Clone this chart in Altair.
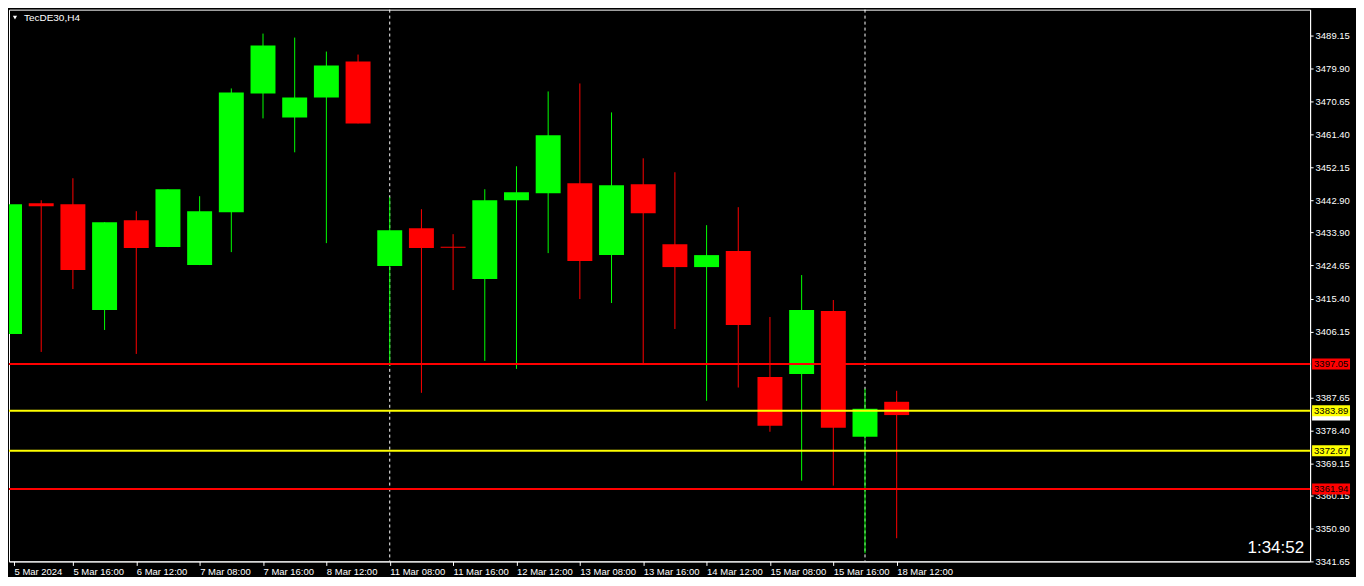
import json
import altair as alt
import pandas as pd

# ---------------- data ----------------
times = ["5 Mar 2024", "5 Mar 12:00", "5 Mar 16:00", "6 Mar 08:00", "6 Mar 12:00", "6 Mar 16:00",
         "7 Mar 08:00", "7 Mar 12:00", "7 Mar 16:00", "8 Mar 08:00", "8 Mar 12:00", "8 Mar 16:00",
         "11 Mar 08:00", "11 Mar 12:00", "11 Mar 16:00", "12 Mar 08:00", "12 Mar 12:00", "12 Mar 16:00",
         "13 Mar 08:00", "13 Mar 12:00", "13 Mar 16:00", "14 Mar 08:00", "14 Mar 12:00", "14 Mar 16:00",
         "15 Mar 08:00", "15 Mar 12:00", "15 Mar 16:00", "18 Mar 08:00", "18 Mar 12:00"]

opens = [3405.45, 3442.13, 3441.85, 3412.17, 3437.37, 3429.81, 3424.77, 3439.61, 3472.92, 3466.20,
         3471.80, 3481.87, 3424.49, 3435.13, 3429.90, 3420.85, 3442.97, 3444.93, 3447.73, 3427.57,
         3447.45, 3430.65, 3424.21, 3428.69, 3393.41, 3394.25, 3411.89, 3376.62, 3386.42]
highs = [3442.41, 3442.97, 3449.13, 3436.81, 3439.89, 3446.05, 3444.09, 3474.32, 3489.71, 3488.59,
         3484.67, 3483.83, 3443.81, 3440.45, 3433.45, 3446.05, 3452.49, 3473.48, 3475.72, 3467.60,
         3454.73, 3450.81, 3435.97, 3441.01, 3410.21, 3421.97, 3414.97, 3390.06, 3389.50]
lows = [3405.45, 3400.41, 3418.05, 3406.57, 3399.85, 3429.81, 3424.77, 3428.41, 3465.92, 3456.41,
        3430.93, 3464.52, 3396.49, 3388.94, 3417.77, 3397.89, 3395.65, 3428.13, 3415.25, 3414.13,
        3397.05, 3406.85, 3386.70, 3390.42, 3378.02, 3364.30, 3362.90, 3343.95, 3348.15]
closes = [3441.85, 3441.29, 3423.37, 3436.81, 3429.53, 3446.05, 3439.89, 3473.20, 3486.35, 3471.80,
          3480.75, 3464.52, 3434.57, 3429.53, 3429.62, 3442.97, 3445.21, 3461.16, 3425.89, 3447.17,
          3439.33, 3424.21, 3427.57, 3407.97, 3379.70, 3412.17, 3379.14, 3384.46, 3382.70]

level_values = [3397.05, 3383.89, 3372.67, 3361.94]
level_colors = ["#FF0000", "#FFFF00", "#FFFF00", "#FF0000"]
bid_price = 3382.70
separators = [12, 27]

y_ticks = [3489.15, 3479.90, 3470.65, 3461.40, 3452.15, 3442.90, 3433.90, 3424.65, 3415.40,
           3406.15, 3387.65, 3378.40, 3369.15, 3360.15, 3350.90, 3341.65]

symbol_title = "TecDE30,H4"
timer_text = "1:34:52"

UP = "#00FF00"
DOWN = "#FF0000"
FONT = "Liberation Sans"

# ---------------- frames ----------------
candles = pd.DataFrame({
    "k": list(range(len(times))),
    "time": times,
    "open": opens, "high": highs, "low": lows, "close": closes,
})
candles["col"] = [UP if c >= o else DOWN for o, c in zip(opens, closes)]

levels = pd.DataFrame({
    "level": level_values,
    "col": level_colors,
    "label": [f"{v:.2f}" for v in level_values],
})
bid = pd.DataFrame({"level": [bid_price], "label": [f"{bid_price:.2f}"]})
seps = pd.DataFrame({"k": separators})

W, H = 1304, 553
x_scale = alt.Scale(domain=[0.140625, 0.140625 + W / 32.0], nice=False, zero=False)
y_scale = alt.Scale(domain=[3341.65, 3341.65 + H / 3.5728], nice=False, zero=False)

label_expr = json.dumps(times) + "[round(datum.value)]"
x_ticks = [0.140625] + list(range(2, len(times), 2))

x_axis = alt.Axis(values=x_ticks, labelExpr=label_expr, title=None, grid=False,
                  domainColor="white", tickColor="white", tickSize=4, labelColor="white",
                  labelFont=FONT, labelFontSize=9.5, labelAlign="left", labelPadding=1,
                  labelFlush=False, labelOverlap=False)
y_axis = alt.Axis(orient="right", values=y_ticks, format=".2f", title=None, grid=False,
                  domainColor="white", tickColor="white", tickSize=3, labelColor="white",
                  labelFont=FONT, labelFontSize=9.5, labelPadding=2, labelOverlap=False,
                  labelFlush=False)

X = alt.X("k:Q", scale=x_scale, axis=x_axis)

base = alt.Chart(candles)

# first candle's wick lies on/outside the left frame edge, so only visible wicks are drawn
wicks = base.transform_filter("datum.k >= 1").mark_rule(strokeWidth=1, clip=True).encode(
    x=X,
    y=alt.Y("low:Q", scale=y_scale, axis=y_axis),
    y2="high:Q",
    color=alt.Color("col:N", scale=None),
)

sep_layer = alt.Chart(seps).mark_rule(color="white", strokeWidth=1, strokeDash=[3, 3]).encode(
    x=X
)

bodies = base.mark_bar(size=25, clip=True).encode(
    x=X,
    y=alt.Y("open:Q", scale=y_scale, axis=y_axis),
    y2="close:Q",
    color=alt.Color("col:N", scale=None),
)

hlines = alt.Chart(levels).mark_rule(strokeWidth=2).encode(
    x=alt.value(0), x2=alt.value(W),
    y=alt.Y("level:Q", scale=y_scale, axis=y_axis),
    color=alt.Color("col:N", scale=None),
)

bid_box = alt.Chart(bid).mark_rule(strokeWidth=11, strokeCap="butt", color="white").encode(
    x=alt.value(W + 2), x2=alt.value(W + 40),
    y=alt.Y("level:Q", scale=y_scale, axis=y_axis),
)
level_boxes = alt.Chart(levels).mark_rule(strokeWidth=11, strokeCap="butt").encode(
    x=alt.value(W + 2), x2=alt.value(W + 40),
    y=alt.Y("level:Q", scale=y_scale, axis=y_axis),
    color=alt.Color("col:N", scale=None),
)
level_text = alt.Chart(levels).mark_text(align="left", baseline="middle", font=FONT,
                                          fontSize=9.5, color="black").encode(
    x=alt.value(W + 4),
    y=alt.Y("level:Q", scale=y_scale, axis=y_axis),
    text="label:N",
)

title_df = pd.DataFrame({"t": [symbol_title]})
title_text = alt.Chart(title_df).mark_text(align="left", baseline="middle", font=FONT,
                                           fontSize=10, color="white").encode(
    x=alt.value(15), y=alt.value(8), text="t:N"
)
title_tri = alt.Chart(title_df).mark_point(shape="triangle-down", filled=True, color="white",
                                           size=18, opacity=1).encode(
    x=alt.value(6), y=alt.value(8)
)

timer_df = pd.DataFrame({"t": [timer_text]})
timer = alt.Chart(timer_df).mark_text(align="right", baseline="alphabetic", font=FONT,
                                      fontSize=17, color="white").encode(
    x=alt.value(W - 6), y=alt.value(H - 8), text="t:N"
)

chart = alt.layer(
    sep_layer, wicks, bodies, hlines, bid_box, level_boxes, level_text,
    title_tri, title_text, timer
).properties(
    width=W, height=H, background="black", padding=0
).configure_view(
    stroke="white", strokeWidth=1, fill="black"
)

chart.save("out.html", embed_options={"renderer": "svg", "actions": False})
